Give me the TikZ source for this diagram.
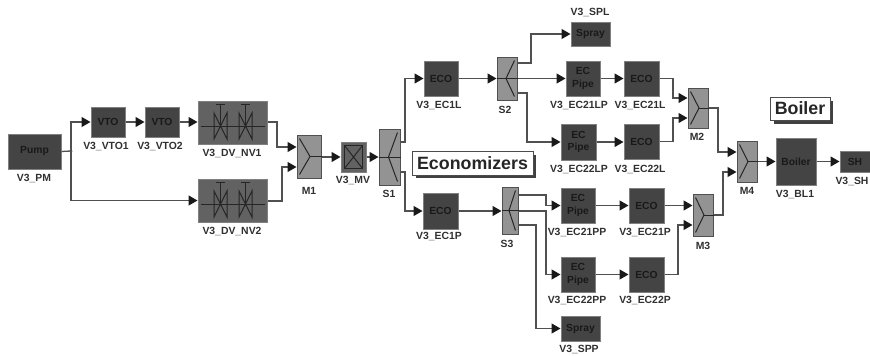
\documentclass[tikz,border=0pt]{standalone}
\usepackage{fontspec}
\setmainfont{Liberation Sans}
\usetikzlibrary{arrows.meta}
\definecolor{blkfill}{HTML}{444444}
\definecolor{valfill}{HTML}{626262}
\definecolor{splfill}{HTML}{939393}
\definecolor{edgec}{HTML}{808080}
\definecolor{linec}{HTML}{505050}
\definecolor{txtc}{HTML}{303030}
\tikzset{
  blk/.style={draw=edgec,line width=1pt,fill=blkfill,inner sep=0pt,align=center,text=black!90,font=\bfseries\fontsize{10.3}{12.5}\selectfont},
  valbox/.style={blk,fill=valfill},
  splbox/.style={blk,fill=splfill,draw=linec},
  captxt/.style={inner sep=0pt,yshift=-1pt,text=txtc,font=\bfseries\fontsize{10.4}{12}\selectfont},
  titlebox/.style={draw=black!70,line width=1pt,fill=white,inner sep=0pt,text=black!85,font=\bfseries\fontsize{17.8}{20}\selectfont},
  shadowbox/.style={fill=black!75,draw=none},
  wire/.style={draw=linec,line width=1.3pt,-{Triangle[length=9pt,width=10pt,color=black!90]}},
  wirenotip/.style={draw=linec,line width=1.3pt},
  sym/.style={draw=black!85,line width=1pt}
}
% \bx{style}{name}{x0}{y0}{x1}{y1}{text}
\newcommand{\bx}[7]{%
  \pgfmathsetmacro{\bxw}{#5-#3}\pgfmathsetmacro{\bxh}{#6-#4}%
  \pgfmathsetmacro{\bxcx}{(#3+#5)/2}\pgfmathsetmacro{\bxcy}{(#4+#6)/2}%
  \node[#1,minimum width=\bxw pt,minimum height=\bxh pt] (#2) at (\bxcx,\bxcy) {#7};}
\newcommand{\cp}[3]{\node[captxt] (l#1) at (#2) {#3};}
% merge symbol
\newcommand{\mrg}[1]{%
  \draw[sym] ([xshift=3pt,yshift=-4pt]#1.north west) -- ([xshift=1pt]#1.center) -- ([xshift=3pt,yshift=4pt]#1.south west);
  \draw[sym] ([xshift=1pt]#1.center) -- (#1.east);}
% split symbol
\newcommand{\spl}[1]{%
  \draw[sym] ([xshift=-3pt,yshift=-4pt]#1.north east) -- ([xshift=-1pt]#1.center) -- ([xshift=-3pt,yshift=4pt]#1.south east);
  \draw[sym] (#1.west) -- (#1.east);}
% valve symbol at x offset inside valve box
\newcommand{\vlv}[2]{%
  \begin{scope}[shift={(#1,#2)}]
    \draw[sym] (-6.5,-13) -- (-6.5,13) -- (6.5,-13) -- (6.5,13) -- cycle;
    \draw[sym] (0,0) -- (0,-22) (-4.5,-22) -- (4.5,-22);
  \end{scope}}
\begin{document}
\begin{tikzpicture}[x=1pt,y=-1pt]
\useasboundingbox (0,0) rectangle (870,356);
\clip (0,0) rectangle (870,356);

\bx{blk}{pm}{8}{134}{61}{169}{Pump}
\bx{blk}{vto1}{91}{107}{125}{137}{VTO}
\bx{blk}{vto2}{145}{107}{179}{137}{VTO}
\bx{valbox}{nv1}{198}{101}{267}{144}{}
\bx{valbox}{nv2}{198}{179}{267}{222}{}
\bx{splbox}{m1}{297}{135}{321}{178}{}
\bx{valbox}{mv}{341}{142}{366}{172}{}
\bx{splbox}{s1}{379}{129}{400}{185}{}
\bx{blk}{ec1l}{424}{61}{458}{96}{ECO}
\bx{blk}{ec1p}{423}{193}{458}{229}{ECO}
\bx{splbox}{s2}{497}{57}{517}{100}{}
\bx{splbox}{s3}{502}{187}{518}{234}{}
\bx{blk}{spl}{571}{22}{610}{46}{Spray}
\bx{blk}{ec21lp}{566}{61}{600}{96}{EC\\Pipe}
\bx{blk}{ec22lp}{561}{124}{596}{160}{EC\\Pipe}
\bx{blk}{ec21l}{624}{61}{659}{96}{ECO}
\bx{blk}{ec22l}{624}{124}{659}{159}{ECO}
\bx{blk}{ec21pp}{561}{188}{595}{223}{EC\\Pipe}
\bx{blk}{ec22pp}{561}{257}{595}{292}{EC\\Pipe}
\bx{blk}{ec21p}{629}{188}{664}{223}{ECO}
\bx{blk}{ec22p}{629}{257}{664}{292}{ECO}
\bx{blk}{spp}{561}{316}{600}{341}{Spray}
\bx{splbox}{m2}{688}{88}{708}{128}{}
\bx{splbox}{m3}{693}{194}{713}{236}{}
\bx{splbox}{m4}{737}{141}{757}{182}{}
\bx{blk}{bl1}{776}{138}{816}{185}{Boiler}
\bx{blk}{sh}{840}{151}{878}{172}{\hspace*{-8pt}SH}

% symbols
\vlv{220.5}{126}\vlv{245.5}{126}
\vlv{220.5}{204}\vlv{245.5}{204}
\draw[sym] (201,126) -- (265,126) (201,204) -- (265,204);
\draw[sym] ([xshift=4pt,yshift=-4pt]mv.north west) rectangle ([xshift=-4pt,yshift=4pt]mv.south east);
\draw[sym] ([xshift=4pt,yshift=-4pt]mv.north west) -- ([xshift=-4pt,yshift=4pt]mv.south east);
\draw[sym] ([xshift=-4pt,yshift=-4pt]mv.north east) -- ([xshift=4pt,yshift=4pt]mv.south west);
\mrg{m1}\mrg{m2}\mrg{m3}\mrg{m4}
\spl{s1}\spl{s2}\spl{s3}

% connectors
\coordinate (jn) at (71,151);
\draw[wirenotip] (pm.east) -- (jn);
\fill[black!85] (jn) circle (1.5pt);
\draw[wire] (jn) |- (vto1.west);
\draw[wire] (jn) |- (nv2.west);
\draw[wire] (vto1) -- (vto2);
\draw[wire] (vto2) -- (vto2.east -| nv1.west);
\draw[wire] (nv1.east |- 0,122) -- (277,122) -- (277,147) -- (m1.west |- 0,147);
\draw[wire] (nv2.east |- 0,201) -- (282,201) -- (282,167) -- (m1.west |- 0,167);
\draw[wire] (m1.east |- 0,157) -- (mv.west |- 0,157);
\draw[wire] (mv.east |- 0,157) -- (s1.west |- 0,157);
\draw[wire] (s1.east |- 0,142) -- (405,142) -- (405,78.5) -- (ec1l.west);
\draw[wire] (s1.east |- 0,172) -- (405,172) -- (405,211) -- (ec1p.west);
\draw[wire] (ec1l.east) -- (s2.west |- ec1l.east);
\draw[wire] (s2.east |- 0,63) -- (531,63) -- (531,34) -- (spl.west);
\draw[wire] (s2.east |- ec21lp.west) -- (ec21lp.west);
\draw[wire] (s2.east |- 0,93) -- (527,93) -- (527,142) -- (ec22lp.west);
\draw[wire] (ec21lp) -- (ec21l);
\draw[wire] (ec22lp) -- (ec22lp.east -| ec22l.west);
\draw[wire] (ec21l.east) -- (673,78.5) -- (673,98) -- (m2.west |- 0,98);
\draw[wire] (ec22l.east) -- (673,141.5) -- (673,118) -- (m2.west |- 0,118);
\draw[wire] (m2.east) -- (718,108) -- (718,152) -- (m4.west |- 0,152);
\draw[wire] (m3.east) -- (723,215) -- (723,172) -- (m4.west |- 0,172);
\draw[wire] (m4.east) -- (m4.east -| bl1.west);
\draw[wire] (bl1.east |- sh.west) -- (sh.west);
\draw[wire] (ec1p.east) -- (s3.west |- ec1p.east);
\draw[wire] (s3.east |- 0,195) -- (546,195) -- (546,205.5) -- (ec21pp.west);
\draw[wire] (s3.east |- ec1p.east) -- (546,211) -- (546,274.5) -- (ec22pp.west);
\draw[wire] (s3.east |- 0,225) -- (536,225) -- (536,328.5) -- (spp.west);
\draw[wire] (ec21pp) -- (ec21p);
\draw[wire] (ec22pp) -- (ec22p);
\draw[wire] (ec21p.east) -- (m3.west |- ec21p.east);
\draw[wire] (ec22p.east) -- (678,274.5) -- (678,225) -- (m3.west |- 0,225);

% captions
\cp{pm}{34,178}{V3\_PM}
\cp{vto1}{106,146}{V3\_VTO1}
\cp{vto2}{160,146}{V3\_VTO2}
\cp{nv1}{232,153}{V3\_DV\_NV1}
\cp{nv2}{232,231}{V3\_DV\_NV2}
\cp{m1}{309,190}{M1}
\cp{mv}{353,180}{V3\_MV}
\cp{s1}{389,193}{S1}
\cp{ec1l}{439,105}{V3\_EC1L}
\cp{s2}{505,109}{S2}
\cp{spl}{590,12}{V3\_SPL}
\cp{ec21lp}{579,105}{V3\_EC21LP}
\cp{ec21l}{640,105}{V3\_EC21L}
\cp{ec22lp}{579,169}{V3\_EC22LP}
\cp{ec22l}{640,169}{V3\_EC22L}
\cp{ec1p}{439,236}{V3\_EC1P}
\cp{s3}{507,243}{S3}
\cp{ec21pp}{577,232}{V3\_EC21PP}
\cp{ec21p}{645,232}{V3\_EC21P}
\cp{ec22pp}{577,300}{V3\_EC22PP}
\cp{ec22p}{645,300}{V3\_EC22P}
\cp{spp}{579,348}{V3\_SPP}
\cp{m2}{697,136}{M2}
\cp{m3}{703,245}{M3}
\cp{m4}{747,190}{M4}
\cp{bl1}{795,194}{V3\_BL1}
\cp{sh}{852,181}{V3\_SH}

% titles
\fill[shadowbox] (416,155) rectangle (536,178);
\bx{titlebox}{teco}{412}{151}{533}{175}{Economizers}
\fill[shadowbox] (774,101) rectangle (833,124);
\bx{titlebox}{tboil}{770}{97}{830}{120}{Boiler}
\end{tikzpicture}
\end{document}
